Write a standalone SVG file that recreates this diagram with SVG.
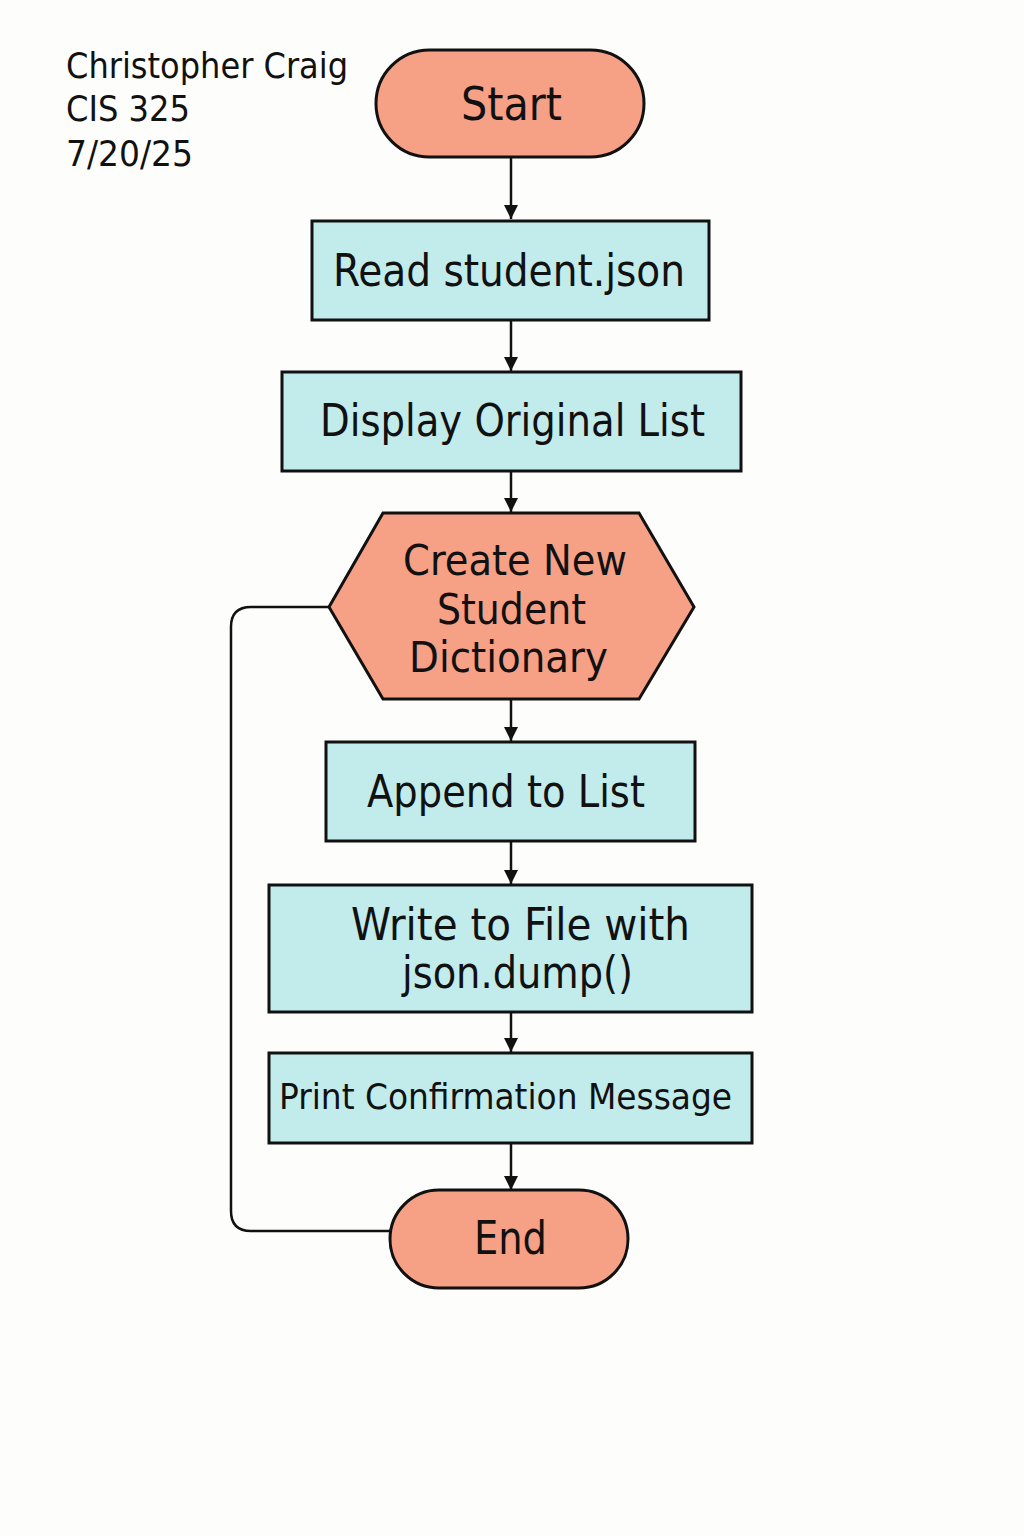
<svg xmlns="http://www.w3.org/2000/svg" width="1024" height="1536" viewBox="0 0 1024 1536">
<style>
.t{font-family:"DejaVu Sans Condensed","DejaVu Sans","Noto Sans",sans-serif;fill:#111;}
.term{fill:#F6A086;stroke:#111;stroke-width:3;}
.proc{fill:#C2ECEB;stroke:#111;stroke-width:3;}
.conn{fill:none;stroke:#111;stroke-width:2.5;}
</style>
<defs>
<marker id="ah" viewBox="0 0 10 10" refX="10" refY="5" markerWidth="15" markerHeight="14" markerUnits="userSpaceOnUse" orient="auto">
<path d="M0,0 L10,5 L0,10 z" fill="#111"/>
</marker>
</defs>
<rect width="1024" height="1536" fill="#FDFDFB"/>
<g id="header">
<text class="t" x="66" y="78" font-size="35" textLength="282" lengthAdjust="spacingAndGlyphs">Christopher Craig</text>
<text class="t" x="66" y="121" font-size="35" textLength="124" lengthAdjust="spacingAndGlyphs">CIS 325</text>
<text class="t" x="66" y="166" font-size="35" textLength="127" lengthAdjust="spacingAndGlyphs">7/20/25</text>
</g>
<g id="connectors">
<line class="conn" x1="511" y1="157" x2="511" y2="219" marker-end="url(#ah)"/>
<line class="conn" x1="511" y1="320" x2="511" y2="371" marker-end="url(#ah)"/>
<line class="conn" x1="511" y1="471" x2="511" y2="512" marker-end="url(#ah)"/>
<line class="conn" x1="511" y1="699" x2="511" y2="741" marker-end="url(#ah)"/>
<line class="conn" x1="511" y1="841" x2="511" y2="884" marker-end="url(#ah)"/>
<line class="conn" x1="511" y1="1012" x2="511" y2="1052" marker-end="url(#ah)"/>
<line class="conn" x1="511" y1="1143" x2="511" y2="1190" marker-end="url(#ah)"/>
<path class="conn" d="M329,607 L251,607 Q231,607 231,627 L231,1211 Q231,1231 251,1231 L390,1231"/>
</g>
<g id="start">
<rect class="term" x="376" y="50" width="268" height="107" rx="53.5"/>
<text class="t" x="461" y="120" font-size="46" textLength="101" lengthAdjust="spacingAndGlyphs">Start</text>
</g>
<g id="read">
<rect class="proc" x="312" y="221" width="397" height="99"/>
<text class="t" x="333" y="286" font-size="44" textLength="352" lengthAdjust="spacingAndGlyphs">Read student.json</text>
</g>
<g id="display">
<rect class="proc" x="282" y="372" width="459" height="99"/>
<text class="t" x="320" y="436" font-size="44" textLength="385" lengthAdjust="spacingAndGlyphs">Display Original List</text>
</g>
<g id="create">
<polygon class="term" points="329,607 383,513 639,513 694,607 639,699 383,699"/>
<text class="t" x="403" y="575" font-size="43" textLength="224" lengthAdjust="spacingAndGlyphs">Create New</text>
<text class="t" x="437" y="624" font-size="43" textLength="149" lengthAdjust="spacingAndGlyphs">Student</text>
<text class="t" x="409" y="672" font-size="43" textLength="199" lengthAdjust="spacingAndGlyphs">Dictionary</text>
</g>
<g id="append">
<rect class="proc" x="326" y="742" width="369" height="99"/>
<text class="t" x="367" y="807" font-size="44" textLength="278" lengthAdjust="spacingAndGlyphs">Append to List</text>
</g>
<g id="write">
<rect class="proc" x="269" y="885" width="483" height="127"/>
<text class="t" x="351" y="940" font-size="44" textLength="339" lengthAdjust="spacingAndGlyphs">Write to File with</text>
<text class="t" x="402" y="988" font-size="44" textLength="231" lengthAdjust="spacingAndGlyphs">json.dump()</text>
</g>
<g id="print">
<rect class="proc" x="269" y="1053" width="483" height="90"/>
<text class="t" x="279" y="1109" font-size="36" textLength="453" lengthAdjust="spacingAndGlyphs">Print Confirmation Message</text>
</g>
<g id="end">
<rect class="term" x="390" y="1190" width="238" height="98" rx="49"/>
<text class="t" x="474" y="1254" font-size="46" textLength="73" lengthAdjust="spacingAndGlyphs">End</text>
</g>
</svg>
